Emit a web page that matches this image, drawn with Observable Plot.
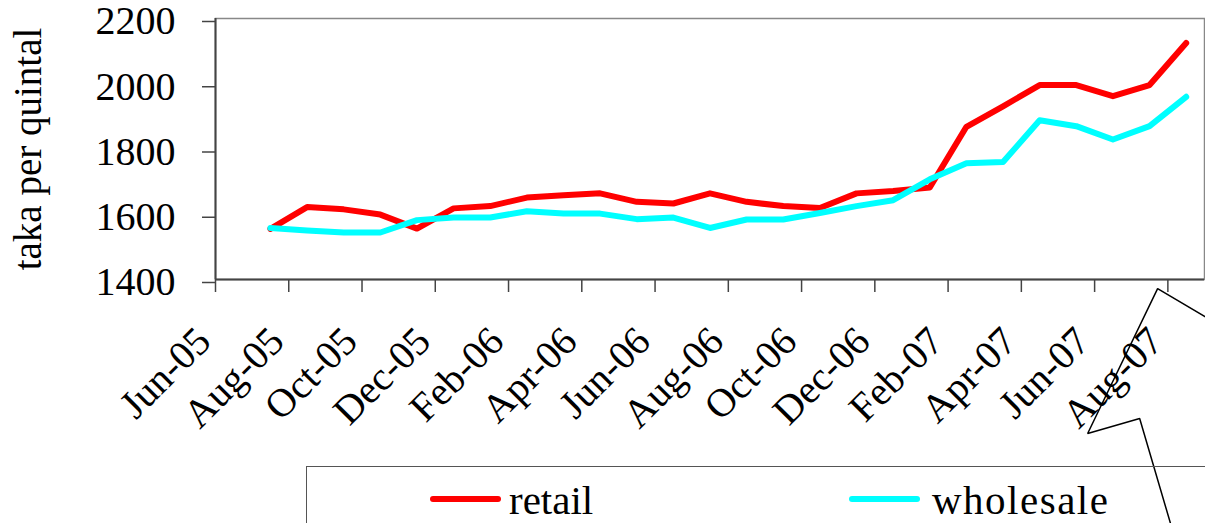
<!DOCTYPE html>
<html>
<head>
<meta charset="utf-8">
<script src="https://cdn.jsdelivr.net/npm/d3@7"></script>
<script src="https://cdn.jsdelivr.net/npm/@observablehq/plot@0.6"></script>
<style>
  html, body { margin: 0; padding: 0; background: #fff; overflow: hidden; }
  #wrap { position: relative; width: 1205px; height: 523px; overflow: hidden; font-family: "Liberation Serif", "Times New Roman", serif; }
  #legend { position: absolute; left: 306px; top: 466px; width: 1000px; height: 100px;
            border-top: 1.5px solid #555; border-left: 1.5px solid #555; box-sizing: border-box; }
  .sw { position: absolute; height: 6px; border-radius: 3px; }
  .lt { position: absolute; font-size: 41px; line-height: 41px; color: #000; white-space: nowrap; }
</style>
</head>
<body>
<div id="wrap">
  <div id="chart"></div>
  <div id="legend"></div>
</div>
<script>
// ---- data ----
const months = ["Jun-05","Jul-05","Aug-05","Sep-05","Oct-05","Nov-05","Dec-05","Jan-06","Feb-06","Mar-06","Apr-06","May-06",
  "Jun-06","Jul-06","Aug-06","Sep-06","Oct-06","Nov-06","Dec-06","Jan-07","Feb-07","Mar-07","Apr-07","May-07","Jun-07","Jul-07","Aug-07"];
const retail = [null,1555,1622,1615,1599,1556,1618,1625,1651,1658,1664,1638,1633,1664,1638,1625,1619,1664,1671,1682,1868,1931,1996,1996,1962,1996,2125];
const wholesale = [null,1558,1550,1544,1544,1582,1590,1590,1609,1602,1602,1585,1590,1558,1584,1584,1604,1625,1643,1707,1756,1760,1888,1870,1829,1870,1960];
const seriesNames = ["retail", "wholesale"];
const seriesColors = ["#FF0000", "#00FFFF"];
const yTicks = [1400, 1600, 1800, 2000, 2200];
const yLabel = "taka per quintal";
// callout shape drawn over the axis (in category-index / value units)
const calloutPath = [
  {x: 27.03, y: 1285}, {x: 25.72, y: 1372}, {x: 23.81, y: 928}, {x: 25.23, y: 974}, {x: 26.07, y: 653}
];

// ---- build ----
const rows = [];
[retail, wholesale].forEach((vals, s) => {
  vals.forEach((v, i) => { if (v != null) rows.push({series: seriesNames[s], i, v}); });
});
const boundaries = d3.range(0, months.length, 2);
const labelIdx = d3.range(0, months.length, 2);
const font = "Liberation Serif, Times New Roman, serif";

const chart = Plot.plot({
  width: 1205,
  height: 523,
  marginLeft: 215,
  marginRight: 1,
  marginTop: 18,
  marginBottom: 244,
  style: {fontFamily: font, background: "white", color: "black"},
  x: {type: "linear", domain: [0, months.length], label: null},
  y: {domain: [1400, 2200], label: null},
  color: {domain: seriesNames, range: seriesColors},
  marks: [
    Plot.frame({stroke: "#888", strokeWidth: 1.5}),
    Plot.axisY({ticks: yTicks, tickSize: 13, tickPadding: 27, fontSize: 40, dy: 3, stroke: "#444", strokeWidth: 1.5, strokeOpacity: 1, tickFormat: d => String(d), label: null, fill: "black"}),
    Plot.axisX({ticks: boundaries, tickSize: 13, tickFormat: () => "", stroke: "#444", strokeWidth: 1.5, strokeOpacity: 1, label: null}),
    Plot.text(labelIdx, {x: i => i + 0.5, frameAnchor: "bottom", text: i => months[i], rotate: -45,
      textAnchor: "end", lineAnchor: "middle", fontSize: 40, dx: -30, dy: 55, fill: "black"}),
    Plot.text([yLabel], {frameAnchor: "left", text: d => d, rotate: -90, textAnchor: "middle", dx: -187, dy: 0, fontSize: 39, lineAnchor: "middle", fill: "black"}),
    Plot.ruleX([0], {stroke: "#444", strokeWidth: 2}),
    Plot.ruleY([1400], {stroke: "#444", strokeWidth: 2}),
    Plot.line(rows, {x: d => d.i + 0.5, y: "v", z: "series", stroke: "series", strokeWidth: 6, strokeLinejoin: "round", strokeLinecap: "round"}),
    Plot.line(calloutPath, {x: "x", y: "y", stroke: "black", strokeWidth: 1.5, strokeLinejoin: "miter"})
  ]
});
document.getElementById("chart").appendChild(chart);

// ---- legend ----
const legend = document.getElementById("legend");
const legendPos = [{sw: 123, tx: 202}, {sw: 542, tx: 625}];
seriesNames.forEach((name, k) => {
  const sw = document.createElement("div");
  sw.className = "sw";
  sw.style.left = legendPos[k].sw + "px";
  sw.style.top = "29px";
  sw.style.width = "71px";
  sw.style.background = seriesColors[k];
  legend.appendChild(sw);
  const t = document.createElement("div");
  t.className = "lt";
  t.style.left = legendPos[k].tx + "px";
  t.style.top = "13px";
  if (name === "wholesale") t.style.letterSpacing = "1.5px";
  t.textContent = name;
  legend.appendChild(t);
});
</script>
</body>
</html>
